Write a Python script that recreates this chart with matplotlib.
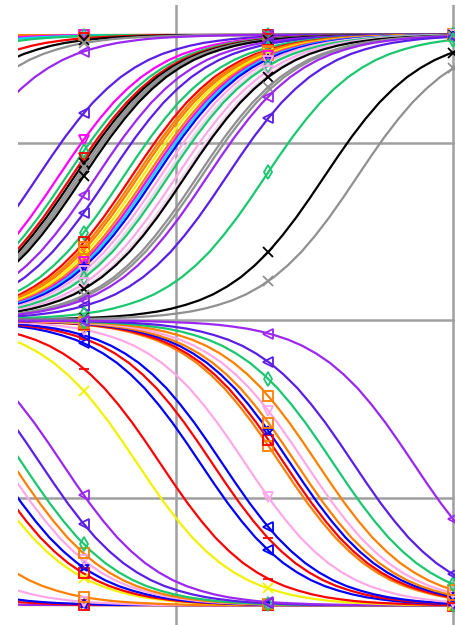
import matplotlib.pyplot as plt
import numpy as np

# common S shape: x offset from the half-way point, fraction of the full step
shape_dx = [-3.0, -1.0, -0.9, -0.8, -0.75, -0.7, -0.65, -0.6, -0.55, -0.5, -0.45, -0.4,
            -0.35, -0.3, -0.25, -0.2, -0.15, -0.1, -0.05, 0.0, 0.05, 0.1, 0.15, 0.2,
            0.25, 0.3, 0.35, 0.4, 0.45, 0.5, 0.55, 0.6, 0.65, 0.7, 0.75, 0.8, 0.9,
            1.0, 3.0]
shape_f = [0.0, 0.003, 0.006, 0.010, 0.013, 0.017, 0.023, 0.030, 0.040, 0.053, 0.069, 0.090,
           0.117, 0.150, 0.191, 0.239, 0.296, 0.359, 0.428, 0.5, 0.572, 0.641, 0.704, 0.761,
           0.809, 0.850, 0.883, 0.910, 0.931, 0.947, 0.960, 0.970, 0.977, 0.983, 0.987, 0.990, 0.994,
           0.997, 1.0]
full_step = 1.61
mark_x = [2 / 3, 4 / 3, 2.0]

OR, MG, GN, CY, RD, BK, GY = "#ff8000", "#ff00ff", "#19c86e", "#00d8ff", "#ff0000", "#000000", "#909090"
PU, VI, YE, BL, PK, LP = "#9b27f0", "#5a1ee6", "#f2f200", "#0000ff", "#ffa8e8", "#f0d4f0"

# rising curves (upper half): x at half height
rise_mid = [-0.574, -0.375, -0.285, -0.22, -0.07, 0.0, 0.07, 0.19,
            0.50, 0.574, 0.603, 0.621, 0.632, 0.643, 0.653, 0.664, 0.711, 0.755,
            0.809, 0.838, 0.852, 0.863, 0.877, 0.892, 0.903, 0.913, 0.924, 0.942,
            0.960, 0.971, 1.0, 1.022, 1.032, 1.076, 1.090, 1.112, 1.181, 1.321,
            1.534, 1.653]
rise_color = [OR, MG, CY, GN, RD, BK, GY, PU,
              VI, MG, GN, RD, BK, GY, GY, BK, PU, VI,
              GN, RD, OR, OR, YE, OR, MG, CY, BL, PK,
              LP, GN, PK, LP, BK, GY, GY, PU, VI, GN,
              BK, GY]
rise_marker = ["s", "v", "", "d", "v", "x", "x", "<",
               "<", "v", "d", "v", "x", "x", "", "x", "<", "<",
               "d", "s", "s", "s", "x", "s", "v", "", "*", "v",
               "", "d", "v", "", "x", "x", "", "<", "<", "d",
               "x", "x"]

# falling curves (lower half): x at half depth
fall_mid = [-0.718, -0.538, -0.321, -0.231, -0.069, 0.069, 0.282, 0.310,
            0.343, 0.379, 0.408, 0.444, 0.509, 0.588, 0.859, 0.942,
            1.087, 1.130, 1.166, 1.249, 1.375, 1.390, 1.412, 1.433,
            1.466, 1.509, 1.567, 1.639, 1.856]
fall_color = [YE, PU, RD, BL, PK, OR, YE, RD,
              BL, PK, OR, GN, VI, PU, YE, RD,
              BL, RD, BL, PK, OR, RD, BL, OR,
              PK, OR, GN, VI, PU]
fall_marker = ["x", "<", "s", "*", "v", "s", "x", "s",
               "*", "v", "s", "d", "<", "<", "x", "_",
               "<", "_", "<", "v", "s", "s", "*", "s",
               "v", "s", "d", "<", "<"]


def draw(ax, mids, colors, marks, sign):
    for c, col, m in zip(mids, colors, marks):
        xs = c + np.array(shape_dx)
        ys = sign * full_step * np.array(shape_f)
        ax.plot(xs, ys, color=col, lw=1.6, zorder=2)
        if m:
            mx = np.array(mark_x)
            ax.plot(mx, np.interp(mx, xs, ys), ls="none", marker=m, mec=col,
                    mfc="none", ms=7, mew=1.3, zorder=3)


fig = plt.figure(figsize=(4.56, 6.25), dpi=100)
ax = fig.add_axes([18 / 456, 0, 438 / 456, 620 / 625])
draw(ax, rise_mid, rise_color, rise_marker, 1)
draw(ax, fall_mid, fall_color, fall_marker, -1)

ax.set_xlim(0.4296, 2.0108)
ax.set_ylim(-1.718, 1.775)
ax.set_xticks([1, 2])
ax.set_yticks([-1, 0, 1])
ax.grid(color="#a0a0a0", lw=1.8, zorder=0)
ax.set_axisbelow(True)
ax.tick_params(length=0, labelleft=False, labelbottom=False)
for s in ax.spines.values():
    s.set_visible(False)

plt.savefig("out.png", dpi=100)
